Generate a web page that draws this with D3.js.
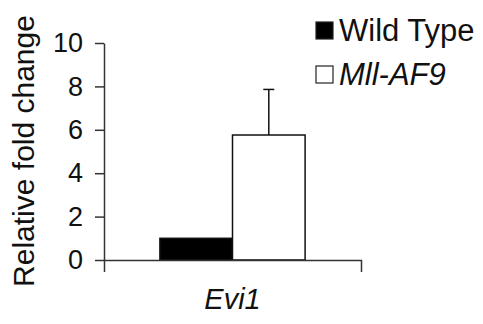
<!DOCTYPE html>
<html>
<head>
<meta charset="utf-8">
<script src="https://cdn.jsdelivr.net/npm/d3@7"></script>
<style>
  body { margin: 0; background: #fff; }
  svg { font-family: "Liberation Sans", Arial, sans-serif; }
</style>
</head>
<body>
<div id="holder"></div>
<script>
const w = 483;
const h = 324;

// DATA
const categories = ["Evi1"];
const series = ["Wild Type", "Mll-AF9"];
const values = [1.0, 5.76];
const errors = [0, 2.1];
const yTicks = [0, 2, 4, 6, 8, 10];
const colors = ["#000", "#fff"];

const svg = d3.select("#holder")
    .append("svg")
    .attr("width", w)
    .attr("height", h);

// SCALES
const yScale = d3.scaleLinear()
    .domain([0, 10])
    .range([260, 43]);

const xScale = d3.scaleBand()
    .domain(categories)
    .range([104, 361]);

const xInner = d3.scaleBand()
    .domain(series)
    .range([0, xScale.bandwidth()])
    .paddingInner(0)
    .paddingOuter(0.77);

// BARS
const g = svg.append("g");
series.forEach((s, i) => {
    const x0 = xScale(categories[0]) + xInner(s);
    g.append("rect")
        .attr("x", x0)
        .attr("y", yScale(values[i]))
        .attr("width", xInner.bandwidth())
        .attr("height", yScale(0) - yScale(values[i]))
        .attr("fill", colors[i])
        .attr("stroke", "#111")
        .attr("stroke-width", 1.5);

    // error bar (upper only)
    if (errors[i] > 0) {
        const cx = x0 + xInner.bandwidth() / 2;
        g.append("line")
            .attr("x1", cx).attr("x2", cx)
            .attr("y1", yScale(values[i]))
            .attr("y2", yScale(values[i] + errors[i]))
            .attr("stroke", "#111").attr("stroke-width", 1.5);
        g.append("line")
            .attr("x1", cx - 5.5).attr("x2", cx + 5.5)
            .attr("y1", yScale(values[i] + errors[i]))
            .attr("y2", yScale(values[i] + errors[i]))
            .attr("stroke", "#111").attr("stroke-width", 1.5);
    }
});

// Y AXIS
const yAxis = d3.axisLeft(yScale)
    .tickValues(yTicks)
    .tickSize(9)
    .tickPadding(12)
    .tickSizeOuter(0);

const ya = svg.append("g")
    .attr("transform", "translate(104,0)")
    .call(yAxis);
ya.selectAll("text").style("font-size", "27px").attr("fill", "#111");
ya.selectAll("line, path").attr("stroke", "#333").attr("stroke-width", 1.5);

// X AXIS
const xAxis = d3.axisBottom(xScale)
    .tickSizeInner(0)
    .tickSizeOuter(12)
    .tickPadding(28);

const xa = svg.append("g")
    .attr("transform", "translate(0,260)")
    .call(xAxis);
xa.selectAll("text")
    .style("font-size", "29px")
    .style("font-style", "italic")
    .attr("fill", "#111");
xa.selectAll("path").attr("stroke", "#333").attr("stroke-width", 1.5);

// Y TITLE
svg.append("text")
    .attr("transform", "translate(34,151) rotate(-90)")
    .attr("text-anchor", "middle")
    .attr("fill", "#111")
    .style("font-size", "30px")
    .text("Relative fold change");

// LEGEND
const legend = svg.append("g");
series.forEach((s, i) => {
    const ly = 22 + i * 44;
    legend.append("rect")
        .attr("x", 316)
        .attr("y", ly)
        .attr("width", 17)
        .attr("height", 17)
        .attr("fill", colors[i])
        .attr("stroke", "#222")
        .attr("stroke-width", 1.2);
    legend.append("text")
        .attr("x", 339)
        .attr("y", ly + 19)
        .attr("fill", "#111")
        .style("font-size", "31px")
        .style("font-style", i === 1 ? "italic" : "normal")
        .text(s);
});
</script>
</body>
</html>
